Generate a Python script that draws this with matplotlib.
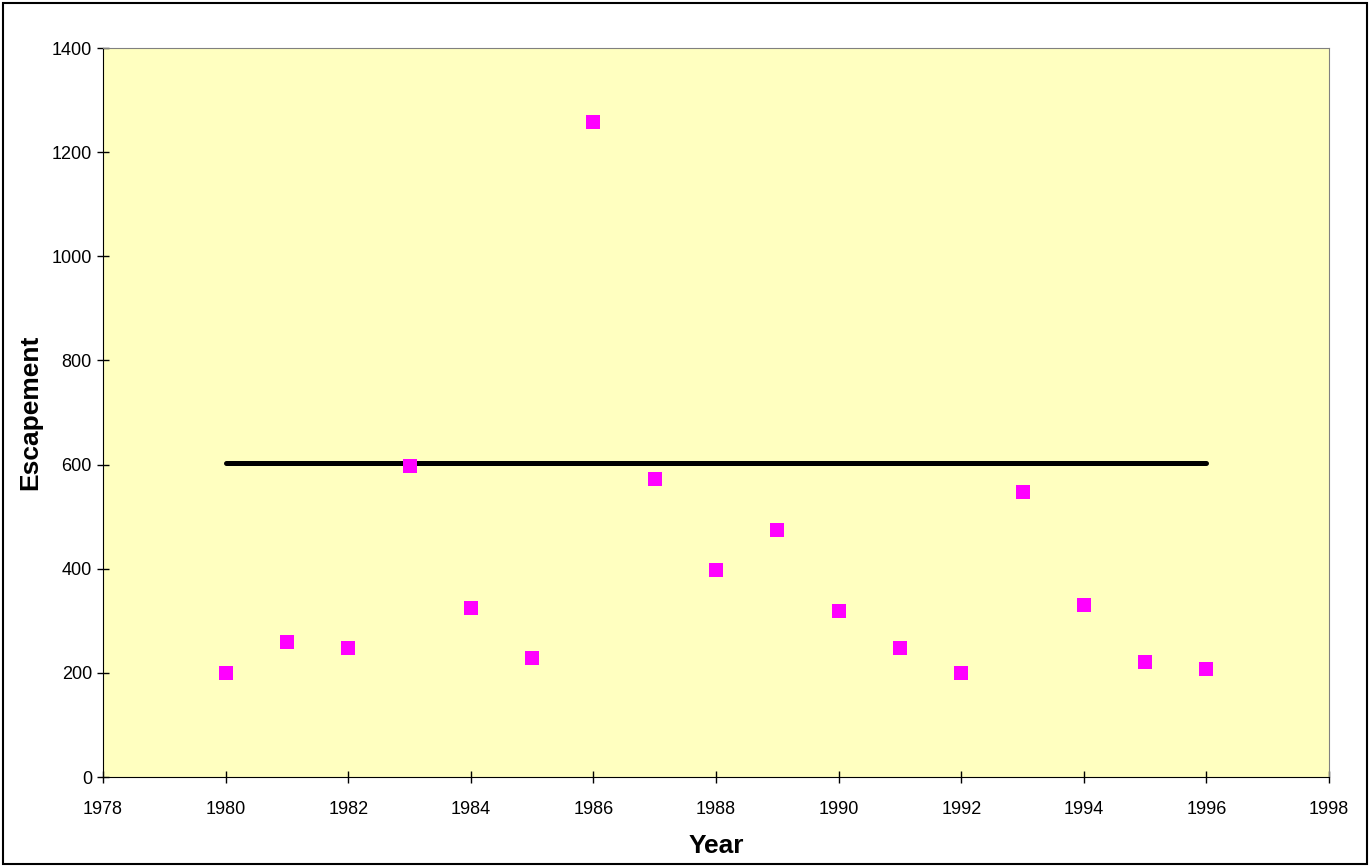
import matplotlib.pyplot as plt
from matplotlib.patches import Rectangle

years = [1980, 1981, 1982, 1983, 1984, 1985, 1986, 1987, 1988,
         1989, 1990, 1991, 1992, 1993, 1994, 1995, 1996]
escapement = [200, 260, 248, 598, 325, 229, 1258, 573, 398,
              475, 319, 248, 199, 548, 330, 220, 208]
goal_years = [1980, 1996]
goal_values = [604, 604]

plt.rcParams["font.family"] = ["Liberation Sans", "DejaVu Sans"]

fig = plt.figure(figsize=(13.72, 8.67), dpi=100)
ax = fig.add_axes([0.0751, 0.1038, 0.8936, 0.8408])
ax.set_facecolor("#FFFFC0")

ax.plot(goal_years, goal_values, color="black", linewidth=3.6,
        solid_capstyle="round", zorder=2)
ax.plot(years, escapement, linestyle="none", marker="s", markersize=9.5,
        color="#FF00FF", markeredgewidth=0, zorder=3)

ax.set_xlim(1978, 1998)
ax.set_ylim(0, 1400)
ax.set_xticks(range(1978, 1999, 2))
ax.set_yticks(range(0, 1401, 200))
ax.tick_params(axis="both", direction="inout", length=8, width=1,
               labelsize=13, colors="black")
ax.tick_params(axis="x", pad=13)
ax.tick_params(axis="y", pad=4)

for side in ["top", "right"]:
    ax.spines[side].set_color("#808080")
for side in ["left", "bottom"]:
    ax.spines[side].set_color("black")

ax.set_xlabel("Year", fontsize=19, fontweight="bold", labelpad=12)
ax.set_ylabel("Escapement", fontsize=19, fontweight="bold", labelpad=7)

fig.patches.append(Rectangle((0.002, 0.003), 0.994, 0.994, transform=fig.transFigure,
                             fill=False, edgecolor="black", linewidth=1.5))

fig.savefig("out.png", dpi=100)
